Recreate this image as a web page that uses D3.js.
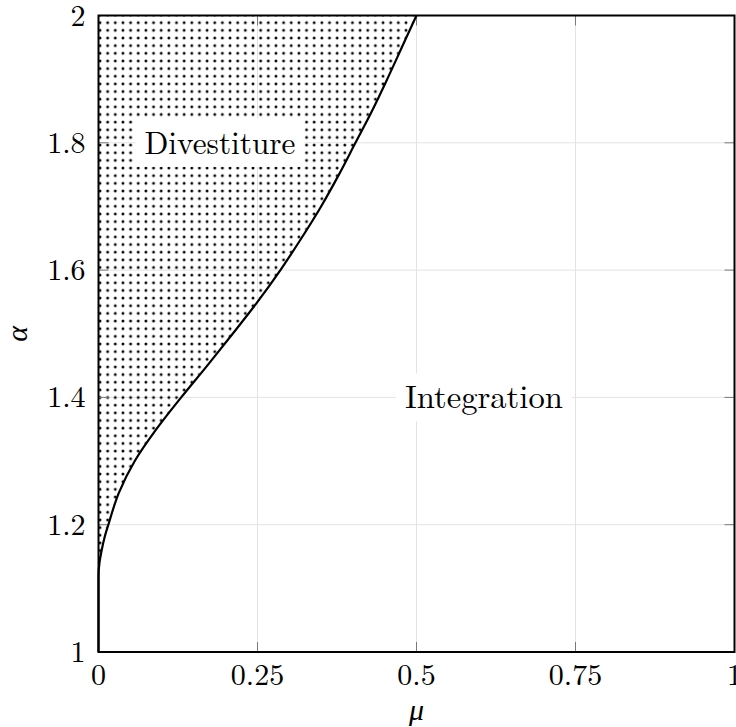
<!DOCTYPE html>
<html>
<head>
<meta charset="utf-8">
<script src="https://cdn.jsdelivr.net/npm/d3@7"></script>
<style>
  body { margin: 0; background: #fff; }
  svg { display: block; }
</style>
</head>
<body>
<svg id="chart" width="736" height="727"></svg>
<script>
// ---- data ----
const xTicks = [0, 0.25, 0.5, 0.75, 1];
const xTickLabels = ["0", "0.25", "0.5", "0.75", "1"];
const yTicks = [1, 1.2, 1.4, 1.6, 1.8, 2];
const yTickLabels = ["1", "1.2", "1.4", "1.6", "1.8", "2"];
// boundary curve: mu (x) against alpha (y)
const boundaryAlpha = [1, 1.12, 1.14, 1.16, 1.18, 1.2, 1.25, 1.3, 1.35, 1.4, 1.45, 1.5, 1.55, 1.6, 1.65, 1.7, 1.75, 1.8, 1.85, 1.9, 1.95, 2];
const boundaryMu    = [0, 0, 0.0015, 0.005, 0.0095, 0.0155, 0.032, 0.057, 0.091, 0.130, 0.171, 0.211, 0.250, 0.286, 0.319, 0.350, 0.378, 0.404, 0.430, 0.454, 0.477, 0.5];
const regionLabels = ["Divestiture", "Integration"];
const regionMu     = [0.191, 0.606];
const regionAlpha  = [1.8, 1.4];
const regionWidths = [151, 158];

// ---- layout ----
const FONT = "'Latin Modern Roman', 'CMU Serif', 'Liberation Serif', 'Times New Roman', 'DejaVu Serif', serif";
const W = 736, H = 727;
const m = { left: 98.5, top: 15.5, right: 1.5, bottom: 75 };
const svg = d3.select("#chart");
const x = d3.scaleLinear().domain([0, 1]).range([m.left, W - m.right]);
const y = d3.scaleLinear().domain([1, 2]).range([H - m.bottom, m.top]);

// pattern
const sp = 7.65;
const defs = svg.append("defs");
const pat = defs.append("pattern")
  .attr("id", "dots").attr("patternUnits", "userSpaceOnUse")
  .attr("x", 100 - sp / 2).attr("y", 15 - sp / 2)
  .attr("width", sp).attr("height", sp);
pat.append("circle").attr("cx", sp / 2).attr("cy", sp / 2).attr("r", 1.45).attr("fill", "#000");

// grid
const g = svg.append("g");
g.selectAll(".gx").data(xTicks.slice(1, -1)).join("line")
  .attr("x1", d => x(d)).attr("x2", d => x(d))
  .attr("y1", y(1)).attr("y2", y(2))
  .attr("stroke", "#e3e3e3").attr("stroke-width", 1);
g.selectAll(".gy").data(yTicks.slice(1, -1)).join("line")
  .attr("y1", d => y(d)).attr("y2", d => y(d))
  .attr("x1", x(0)).attr("x2", x(1))
  .attr("stroke", "#e3e3e3").attr("stroke-width", 1);

// region fill
const pts = boundaryMu.map((mu, i) => [mu, boundaryAlpha[i]]);
const line = d3.line().x(d => x(d[0])).y(d => y(d[1])).curve(d3.curveMonotoneY);
const curveD = line(pts);
svg.append("path")
  .attr("d", curveD + "L" + x(0) + "," + y(2) + "Z")
  .attr("fill", "url(#dots)");

// ticks (inward, all sides)
const tickLen = 10;
const tk = svg.append("g").attr("stroke", "#7a7a7a").attr("stroke-width", 1);
xTicks.slice(1, -1).forEach(d => {
  tk.append("line").attr("x1", x(d)).attr("x2", x(d)).attr("y1", y(1)).attr("y2", y(1) - tickLen);
  tk.append("line").attr("x1", x(d)).attr("x2", x(d)).attr("y1", y(2)).attr("y2", y(2) + tickLen);
});
yTicks.slice(1, -1).forEach(d => {
  tk.append("line").attr("y1", y(d)).attr("y2", y(d)).attr("x1", x(0)).attr("x2", x(0) + tickLen);
  tk.append("line").attr("y1", y(d)).attr("y2", y(d)).attr("x1", x(1)).attr("x2", x(1) - tickLen);
});

// boundary line
svg.append("path").attr("d", curveD)
  .attr("fill", "none").attr("stroke", "#000").attr("stroke-width", 2.2);

// region labels with white boxes
regionLabels.forEach((t, i) => {
  const cx = x(regionMu[i]), cy = y(regionAlpha[i]);
  const w = regionWidths[i] + 18, h = 48;
  svg.append("rect").attr("x", cx - w / 2).attr("y", cy - h / 2)
    .attr("width", w).attr("height", h).attr("fill", "#fff");
  svg.append("text").attr("x", cx).attr("y", cy + 11)
    .attr("text-anchor", "middle").attr("font-size", 32)
    .style("font-family", FONT)
    .attr("textLength", regionWidths[i]).attr("lengthAdjust", "spacingAndGlyphs")
    .text(t);
});

// frame
svg.append("rect").attr("x", x(0)).attr("y", y(2))
  .attr("width", x(1) - x(0)).attr("height", y(1) - y(2))
  .attr("fill", "none").attr("stroke", "#000").attr("stroke-width", 2);

// tick labels
svg.selectAll(".xl").data(xTicks).join("text")
  .attr("x", d => x(d)).attr("y", y(1) + 33)
  .attr("text-anchor", "middle").attr("font-size", 30)
  .style("font-family", FONT)
  .text((d, i) => xTickLabels[i]);
svg.selectAll(".yl").data(yTicks).join("text")
  .attr("x", x(0) - 13).attr("y", d => y(d) + 10)
  .attr("text-anchor", "end").attr("font-size", 30)
  .style("font-family", FONT)
  .text((d, i) => yTickLabels[i]);

// axis titles
svg.append("text").attr("x", (x(0) + x(1)) / 2).attr("y", 720)
  .attr("text-anchor", "middle").attr("font-size", 30).attr("font-style", "italic")
  .style("font-family", FONT)
  .text("μ");
svg.append("text").attr("transform", `translate(27,${(y(1) + y(2)) / 2}) rotate(-90)`)
  .attr("text-anchor", "middle").attr("font-size", 30).attr("font-style", "italic")
  .style("font-family", FONT)
  .text("α");
</script>
</body>
</html>
